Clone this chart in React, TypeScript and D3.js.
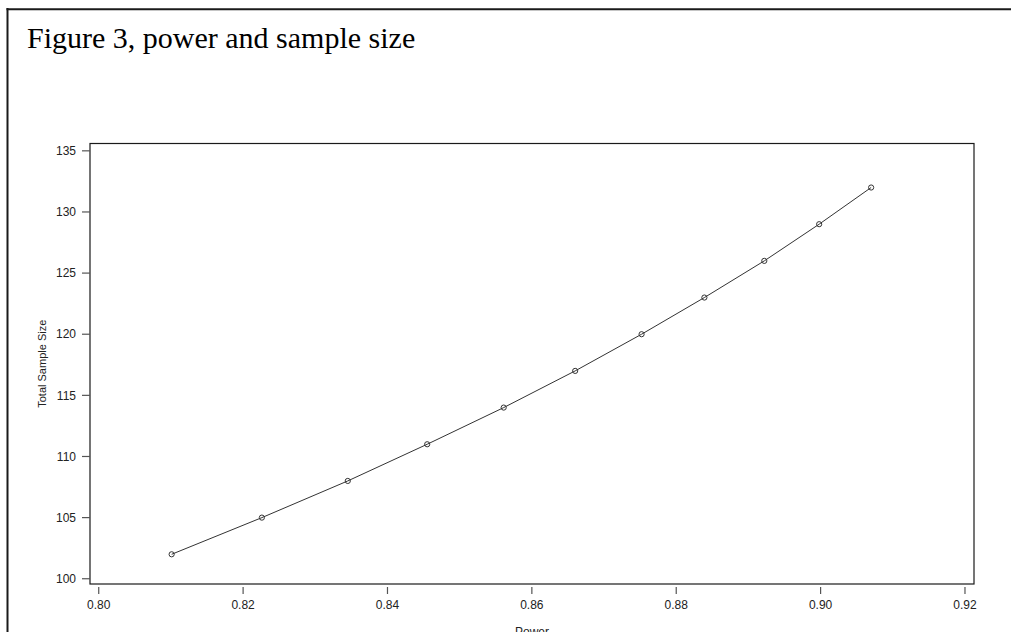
import React from 'react';
import * as d3 from 'd3';

// values
const power = [0.8101, 0.8226, 0.8345, 0.8455, 0.8561, 0.866, 0.8752, 0.8839, 0.8922, 0.8998, 0.907];
const sampleSize = [102, 105, 108, 111, 114, 117, 120, 123, 126, 129, 132];
const xTicks = [0.8, 0.82, 0.84, 0.86, 0.88, 0.9, 0.92];
const yTicks = [100, 105, 110, 115, 120, 125, 130, 135];

const App = () => {
  const width = 1011;
  const height = 632;
  const box = { left: 90, right: 974, top: 143.5, bottom: 584 };

  const x = d3.scaleLinear().domain([0.79879, 0.92125]).range([box.left, box.right]);
  const y = d3.scaleLinear().domain([99.57, 135.6]).range([box.bottom, box.top]);

  const pts = power.map((p, i) => [p, sampleSize[i]] as [number, number]);
  const line = d3.line<[number, number]>()
    .x(d => x(d[0]))
    .y(d => y(d[1]));

  const tickFont = 'Arial, "Liberation Sans", sans-serif';

  return (
    <svg
      width={width}
      height={height}
      style={{ position: 'fixed', left: 0, top: 0, background: '#fff' }}
    >
      {/* page frame */}
      <line x1={7.5} x2={7.5} y1={8} y2={height} stroke="#1a1a1a" strokeWidth={2} />
      <line x1={6.5} x2={width} y1={9.3} y2={9.3} stroke="#1a1a1a" strokeWidth={2} />

      <text x={27} y={47.5} fontFamily='"Times New Roman", "Liberation Serif", serif' fontSize={30} fill="#000">
        Figure 3, power and sample size
      </text>

      {/* plot box */}
      <rect
        x={box.left}
        y={box.top}
        width={box.right - box.left}
        height={box.bottom - box.top}
        fill="none"
        stroke="#1a1a1a"
        strokeWidth={1.2}
      />

      {/* y axis */}
      {yTicks.map(t => (
        <g key={t}>
          <line x1={82} x2={box.left} y1={y(t)} y2={y(t)} stroke="#555" strokeWidth={1.2} />
          <text x={76} y={y(t)} dy="0.35em" textAnchor="end" fontFamily={tickFont} fontSize={12} fill="#222">
            {t}
          </text>
        </g>
      ))}

      {/* x axis */}
      {xTicks.map(t => (
        <g key={t}>
          <line x1={x(t)} x2={x(t)} y1={587} y2={594} stroke="#555" strokeWidth={1.2} />
          <text x={x(t)} y={604.5} dy="0.35em" textAnchor="middle" fontFamily={tickFont} fontSize={12} fill="#222">
            {d3.format('.2f')(t)}
          </text>
        </g>
      ))}

      <text x={(box.left + box.right) / 2} y={636} textAnchor="middle" fontFamily={tickFont} fontSize={12} fill="#222">
        Power
      </text>
      <text
        transform={`translate(46,${(box.top + box.bottom) / 2}) rotate(-90)`}
        textAnchor="middle"
        fontFamily={tickFont}
        fontSize={11}
        fill="#222"
      >
        Total Sample Size
      </text>

      <path d={line(pts) || ''} fill="none" stroke="#333" strokeWidth={1} />
      {pts.map((d, i) => (
        <circle key={i} cx={x(d[0])} cy={y(d[1])} r={2.6} fill="none" stroke="#333" strokeWidth={1} />
      ))}
    </svg>
  );
};

export default App;
